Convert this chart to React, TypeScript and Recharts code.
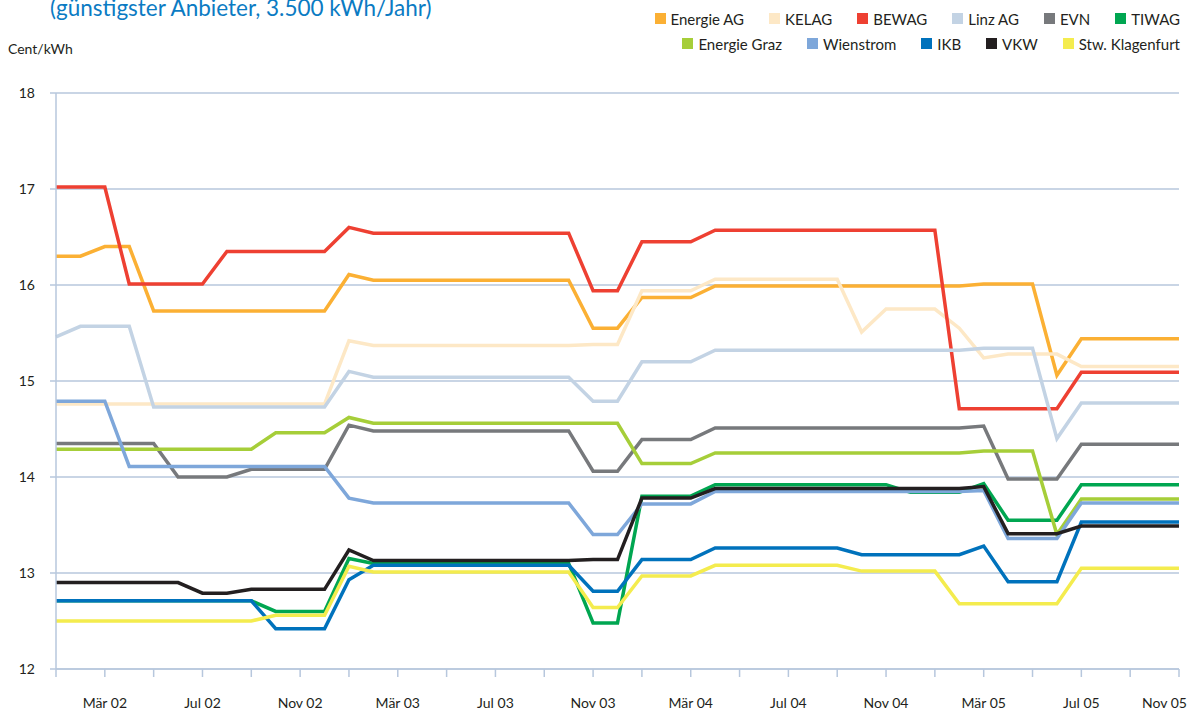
import { CartesianGrid, Line, LineChart, XAxis, YAxis } from "recharts"

const months = [
  "Jan 02", "Feb 02", "Mär 02", "Apr 02", "Mai 02", "Jun 02", "Jul 02", "Aug 02", "Sep 02", "Okt 02", "Nov 02", "Dez 02",
  "Jan 03", "Feb 03", "Mär 03", "Apr 03", "Mai 03", "Jun 03", "Jul 03", "Aug 03", "Sep 03", "Okt 03", "Nov 03", "Dez 03",
  "Jan 04", "Feb 04", "Mär 04", "Apr 04", "Mai 04", "Jun 04", "Jul 04", "Aug 04", "Sep 04", "Okt 04", "Nov 04", "Dez 04",
  "Jan 05", "Feb 05", "Mär 05", "Apr 05", "Mai 05", "Jun 05", "Jul 05", "Aug 05", "Sep 05", "Okt 05", "Nov 05",
]

const tickLabels = ["Mär 02", "Jul 02", "Nov 02", "Mär 03", "Jul 03", "Nov 03", "Mär 04", "Jul 04", "Nov 04", "Mär 05", "Jul 05", "Nov 05"]
const yTicks = [12, 13, 14, 15, 16, 17, 18]

// Cent/kWh, one value per month
const energieAg = [
  16.3, 16.3, 16.4, 16.4, 15.73, 15.73, 15.73, 15.73, 15.73, 15.73, 15.73, 15.73,
  16.11, 16.05, 16.05, 16.05, 16.05, 16.05, 16.05, 16.05, 16.05, 16.05, 15.55, 15.55,
  15.87, 15.87, 15.87, 15.99, 15.99, 15.99, 15.99, 15.99, 15.99, 15.99, 15.99, 15.99,
  15.99, 15.99, 16.01, 16.01, 16.01, 15.06, 15.44, 15.44, 15.44, 15.44, 15.44,
]
const kelag = [
  14.76, 14.76, 14.76, 14.76, 14.76, 14.76, 14.76, 14.76, 14.76, 14.76, 14.76, 14.76,
  15.42, 15.37, 15.37, 15.37, 15.37, 15.37, 15.37, 15.37, 15.37, 15.37, 15.38, 15.38,
  15.94, 15.94, 15.94, 16.06, 16.06, 16.06, 16.06, 16.06, 16.06, 15.51, 15.75, 15.75,
  15.75, 15.55, 15.24, 15.28, 15.28, 15.28, 15.15, 15.15, 15.15, 15.15, 15.15,
]
const bewag = [
  17.02, 17.02, 17.02, 16.01, 16.01, 16.01, 16.01, 16.35, 16.35, 16.35, 16.35, 16.35,
  16.6, 16.54, 16.54, 16.54, 16.54, 16.54, 16.54, 16.54, 16.54, 16.54, 15.94, 15.94,
  16.45, 16.45, 16.45, 16.57, 16.57, 16.57, 16.57, 16.57, 16.57, 16.57, 16.57, 16.57,
  16.57, 14.71, 14.71, 14.71, 14.71, 14.71, 15.09, 15.09, 15.09, 15.09, 15.09,
]
const linzAg = [
  15.46, 15.57, 15.57, 15.57, 14.73, 14.73, 14.73, 14.73, 14.73, 14.73, 14.73, 14.73,
  15.1, 15.04, 15.04, 15.04, 15.04, 15.04, 15.04, 15.04, 15.04, 15.04, 14.79, 14.79,
  15.2, 15.2, 15.2, 15.32, 15.32, 15.32, 15.32, 15.32, 15.32, 15.32, 15.32, 15.32,
  15.32, 15.32, 15.34, 15.34, 15.34, 14.4, 14.77, 14.77, 14.77, 14.77, 14.77,
]
const evn = [
  14.35, 14.35, 14.35, 14.35, 14.35, 14.0, 14.0, 14.0, 14.08, 14.08, 14.08, 14.08,
  14.54, 14.48, 14.48, 14.48, 14.48, 14.48, 14.48, 14.48, 14.48, 14.48, 14.06, 14.06,
  14.39, 14.39, 14.39, 14.51, 14.51, 14.51, 14.51, 14.51, 14.51, 14.51, 14.51, 14.51,
  14.51, 14.51, 14.53, 13.98, 13.98, 13.98, 14.34, 14.34, 14.34, 14.34, 14.34,
]
const tiwag = [
  12.71, 12.71, 12.71, 12.71, 12.71, 12.71, 12.71, 12.71, 12.71, 12.6, 12.6, 12.6,
  13.15, 13.1, 13.1, 13.1, 13.1, 13.1, 13.1, 13.1, 13.1, 13.1, 12.48, 12.48,
  13.8, 13.8, 13.8, 13.92, 13.92, 13.92, 13.92, 13.92, 13.92, 13.92, 13.92, 13.84,
  13.84, 13.84, 13.93, 13.55, 13.55, 13.55, 13.92, 13.92, 13.92, 13.92, 13.92,
]
const energieGraz = [
  14.29, 14.29, 14.29, 14.29, 14.29, 14.29, 14.29, 14.29, 14.29, 14.46, 14.46, 14.46,
  14.62, 14.56, 14.56, 14.56, 14.56, 14.56, 14.56, 14.56, 14.56, 14.56, 14.56, 14.56,
  14.14, 14.14, 14.14, 14.25, 14.25, 14.25, 14.25, 14.25, 14.25, 14.25, 14.25, 14.25,
  14.25, 14.25, 14.27, 14.27, 14.27, 13.4, 13.77, 13.77, 13.77, 13.77, 13.77,
]
const wienstrom = [
  14.79, 14.79, 14.79, 14.11, 14.11, 14.11, 14.11, 14.11, 14.11, 14.11, 14.11, 14.11,
  13.78, 13.73, 13.73, 13.73, 13.73, 13.73, 13.73, 13.73, 13.73, 13.73, 13.4, 13.4,
  13.72, 13.72, 13.72, 13.85, 13.85, 13.85, 13.85, 13.85, 13.85, 13.85, 13.85, 13.85,
  13.85, 13.85, 13.86, 13.36, 13.36, 13.36, 13.73, 13.73, 13.73, 13.73, 13.73,
]
const ikb = [
  12.71, 12.71, 12.71, 12.71, 12.71, 12.71, 12.71, 12.71, 12.71, 12.42, 12.42, 12.42,
  12.93, 13.08, 13.08, 13.08, 13.08, 13.08, 13.08, 13.08, 13.08, 13.08, 12.81, 12.81,
  13.14, 13.14, 13.14, 13.26, 13.26, 13.26, 13.26, 13.26, 13.26, 13.19, 13.19, 13.19,
  13.19, 13.19, 13.28, 12.91, 12.91, 12.91, 13.53, 13.53, 13.53, 13.53, 13.53,
]
const vkw = [
  12.9, 12.9, 12.9, 12.9, 12.9, 12.9, 12.79, 12.79, 12.83, 12.83, 12.83, 12.83,
  13.24, 13.13, 13.13, 13.13, 13.13, 13.13, 13.13, 13.13, 13.13, 13.13, 13.14, 13.14,
  13.78, 13.78, 13.78, 13.88, 13.88, 13.88, 13.88, 13.88, 13.88, 13.88, 13.88, 13.88,
  13.88, 13.88, 13.9, 13.41, 13.41, 13.41, 13.49, 13.49, 13.49, 13.49, 13.49,
]
const klagenfurt = [
  12.5, 12.5, 12.5, 12.5, 12.5, 12.5, 12.5, 12.5, 12.5, 12.56, 12.56, 12.56,
  13.07, 13.01, 13.01, 13.01, 13.01, 13.01, 13.01, 13.01, 13.01, 13.01, 12.64, 12.64,
  12.97, 12.97, 12.97, 13.08, 13.08, 13.08, 13.08, 13.08, 13.08, 13.02, 13.02, 13.02,
  13.02, 12.68, 12.68, 12.68, 12.68, 12.68, 13.05, 13.05, 13.05, 13.05, 13.05,
]

const series = [
  { key: "energieAg", name: "Energie AG", color: "#fbb034", values: energieAg },
  { key: "kelag", name: "KELAG", color: "#fde8c6", values: kelag },
  { key: "bewag", name: "BEWAG", color: "#ee4032", values: bewag },
  { key: "linzAg", name: "Linz AG", color: "#c3d3e4", values: linzAg },
  { key: "evn", name: "EVN", color: "#77797c", values: evn },
  { key: "tiwag", name: "TIWAG", color: "#00a651", values: tiwag },
  { key: "energieGraz", name: "Energie Graz", color: "#a6ce39", values: energieGraz },
  { key: "wienstrom", name: "Wienstrom", color: "#7ea7da", values: wienstrom },
  { key: "ikb", name: "IKB", color: "#0072bc", values: ikb },
  { key: "vkw", name: "VKW", color: "#231f20", values: vkw },
  { key: "klagenfurt", name: "Stw. Klagenfurt", color: "#f4ec4e", values: klagenfurt },
]

const data = months.map((month, i) => {
  const row: Record<string, string | number> = { month }
  series.forEach((s) => {
    row[s.key] = s.values[i]
  })
  return row
})

const FONT = "Lato, 'Open Sans', sans-serif"
const AXIS = "#b7c7dd"
const TEXT = "#231f20"

function MonthTick(props: any) {
  const { x, y, payload } = props
  if (!tickLabels.includes(payload.value)) return <g />
  const last = payload.value === months[months.length - 1]
  return (
    <text
      x={last ? x + 8 : x}
      y={y}
      dy="0.71em"
      textAnchor={last ? "end" : "middle"}
      fill={TEXT}
      fontSize={14}
      fontFamily={FONT}
    >
      {payload.value}
    </text>
  )
}

function LegendRows() {
  const rows = [series.slice(0, 6), series.slice(6)]
  return (
    <div style={{ position: "absolute", top: 6, right: 18, fontFamily: FONT, fontSize: 15, color: TEXT }}>
      {rows.map((row, r) => (
        <div key={r} style={{ display: "flex", justifyContent: "flex-end", gap: 25, height: 25, alignItems: "center" }}>
          {row.map((s) => (
            <div key={s.key} style={{ display: "flex", alignItems: "center", gap: 5 }}>
              <span style={{ width: 11, height: 11, background: s.color, display: "inline-block" }} />
              <span>{s.name}</span>
            </div>
          ))}
        </div>
      ))}
    </div>
  )
}

export default function App() {
  return (
    <div style={{ position: "absolute", left: 0, top: 0, width: 1198, height: 715, background: "#fff" }}>
      <svg width={1198} height={715} style={{ position: "absolute", left: 0, top: 0 }}>
        <text x={50} y={16} fontSize={22.5} fill="#0b7bc3" fontFamily={FONT}>
          (günstigster Anbieter, 3.500 kWh/Jahr)
        </text>
        <text x={8} y={54} fontSize={14} fill={TEXT} fontFamily={FONT}>
          Cent/kWh
        </text>
      </svg>
      <div style={{ position: "absolute", left: 0, top: 0 }}>
        <LineChart width={1198} height={715} data={data} margin={{ top: 93, right: 19, bottom: 6, left: 16 }}>
          <CartesianGrid vertical={false} stroke={AXIS} strokeWidth={1.5} />
          <XAxis
            dataKey="month"
            interval={1}
            height={40}
            tickSize={8}
            tickMargin={21}
            axisLine={{ stroke: AXIS, strokeWidth: 1.5 }}
            tickLine={{ stroke: AXIS, strokeWidth: 1.5 }}
            tick={<MonthTick />}
          />
          <YAxis
            domain={[12, 18]}
            ticks={yTicks}
            width={40}
            tickSize={6}
            tickMargin={15}
            axisLine={{ stroke: AXIS, strokeWidth: 1.5 }}
            tickLine={{ stroke: AXIS, strokeWidth: 1.5 }}
            tick={{ fill: TEXT, fontSize: 14, fontFamily: FONT }}
          />
          {series.map((s) => (
            <Line
              key={s.key}
              dataKey={s.key}
              name={s.name}
              stroke={s.color}
              strokeWidth={3.5}
              dot={false}
              activeDot={false}
              isAnimationActive={false}
            />
          ))}
        </LineChart>
      </div>
      <LegendRows />
    </div>
  )
}
